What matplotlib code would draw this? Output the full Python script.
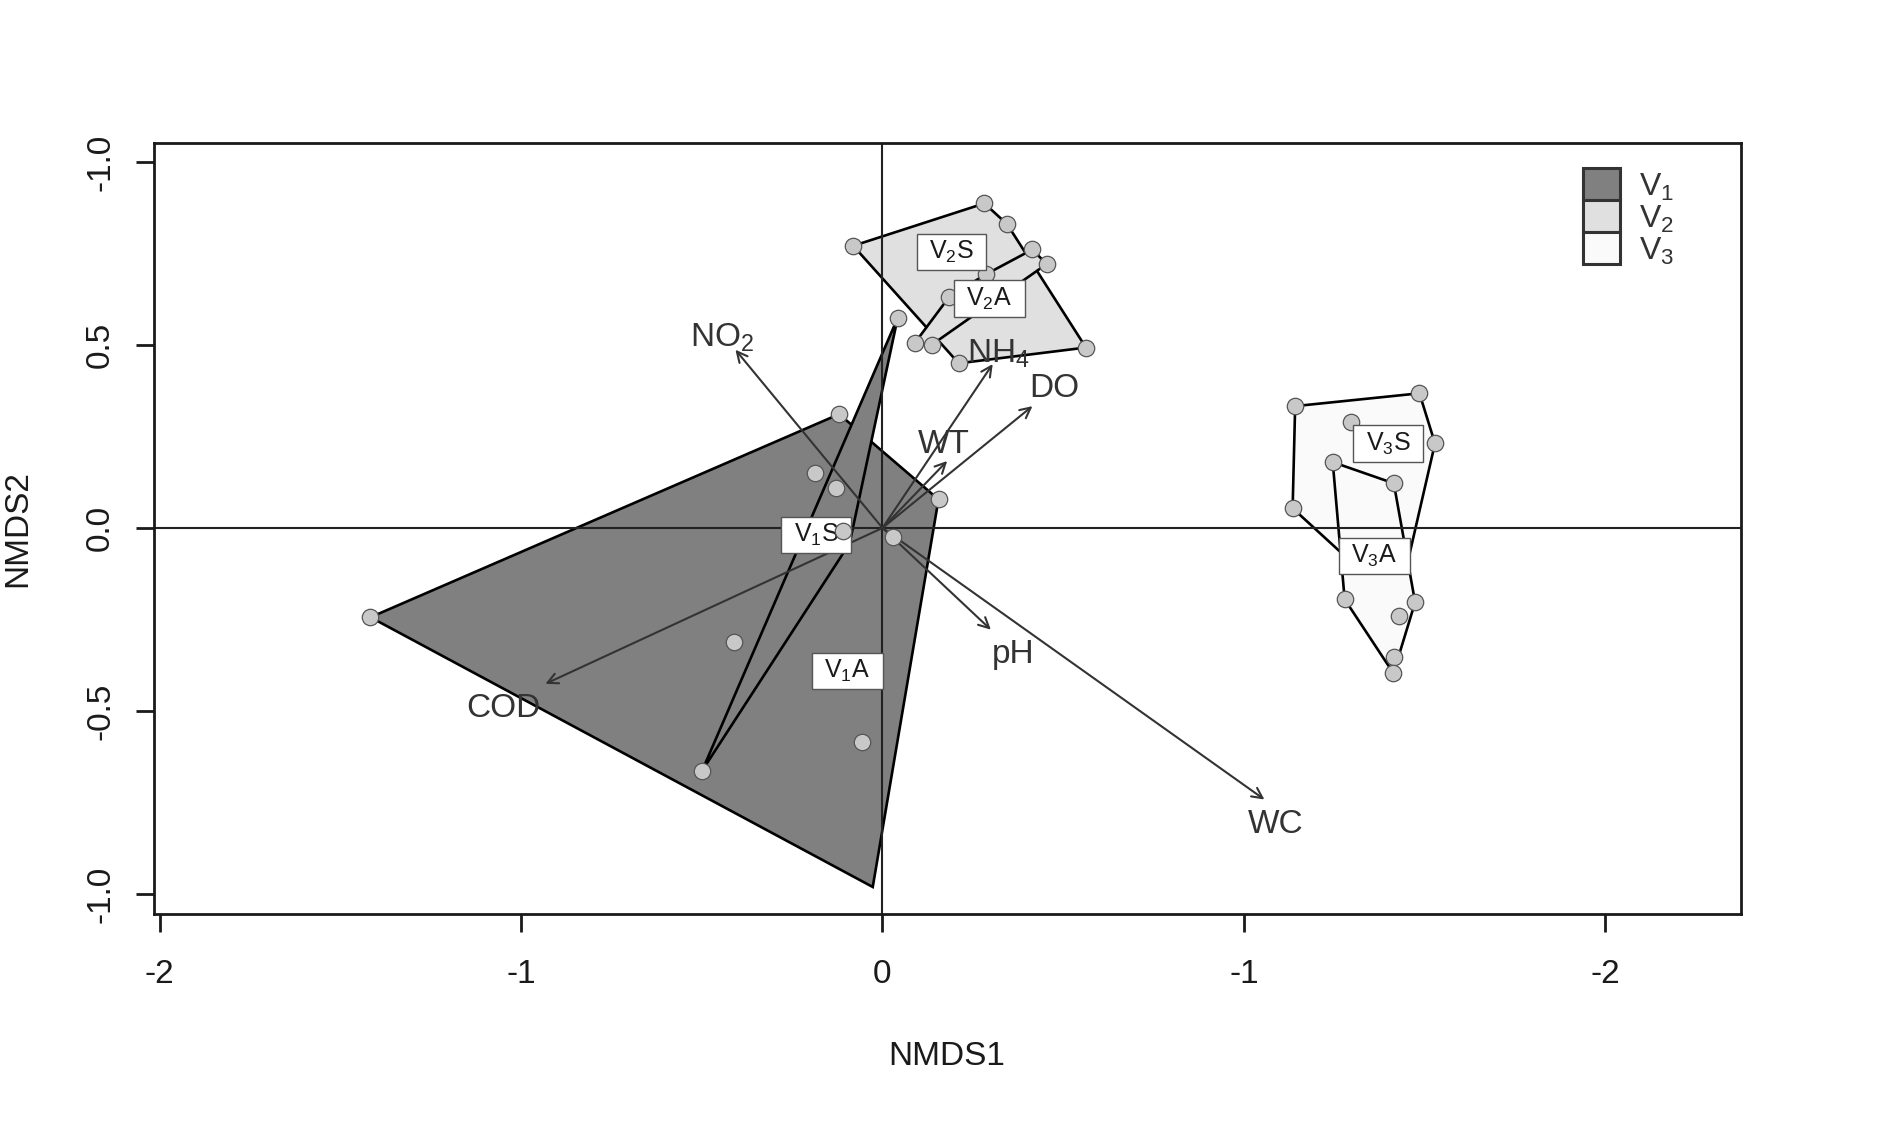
import numpy as np
import matplotlib
matplotlib.use('Agg')
import matplotlib.pyplot as plt
from matplotlib.path import Path
from matplotlib.patches import Polygon, Rectangle

plt.rcParams['font.family'] = ['Liberation Sans', 'DejaVu Sans']
plt.rcParams['mathtext.fontset'] = 'custom'
plt.rcParams['mathtext.rm'] = 'Liberation Sans'
plt.rcParams['mathtext.it'] = 'Liberation Sans:italic'
plt.rcParams['mathtext.bf'] = 'Liberation Sans:bold'

# ---------------- data ----------------
# site scores (NMDS1, NMDS2) per group
v1_x = [-1.417, -0.120, -0.186, -0.129, -0.108, 0.030, 0.155, -0.410, -0.499, -0.057, 0.042]
v1_y = [-0.244, 0.311, 0.150, 0.110, -0.008, -0.024, 0.078, -0.312, -0.663, -0.585, 0.574]
v2_x = [-0.081, 0.282, 0.345, 0.415, 0.454, 0.286, 0.185, 0.089, 0.137, 0.211, 0.563]
v2_y = [0.771, 0.887, 0.830, 0.761, 0.721, 0.693, 0.632, 0.505, 0.501, 0.450, 0.493]
v3_x = [1.142, 1.486, 1.296, 1.529, 1.246, 1.415, 1.135, 1.279, 1.474, 1.430, 1.416, 1.414]
v3_y = [0.333, 0.368, 0.290, 0.231, 0.180, 0.122, 0.054, -0.195, -0.203, -0.240, -0.352, -0.397]

# hulls (sub-groups)
hull_names = ['V1A', 'V1S', 'V2S', 'V2A', 'V3S', 'V3A']
hull_labels = [r'V$_1$A', r'V$_1$S', r'V$_2$S', r'V$_2$A', r'V$_3$S', r'V$_3$A']
hull_group = ['V1', 'V1', 'V2', 'V2', 'V3', 'V3']
hull_x = {
    'V1A': [-1.417, -0.120, 0.155, -0.027],
    'V1S': [0.042, -0.091, -0.499],
    'V2S': [-0.081, 0.282, 0.345, 0.563, 0.211],
    'V2A': [0.185, 0.286, 0.415, 0.454, 0.137, 0.089],
    'V3S': [1.142, 1.486, 1.529, 1.457, 1.281, 1.135],
    'V3A': [1.246, 1.415, 1.474, 1.414, 1.279],
}
hull_y = {
    'V1A': [-0.244, 0.311, 0.078, -0.981],
    'V1S': [0.574, -0.042, -0.663],
    'V2S': [0.771, 0.887, 0.830, 0.493, 0.450],
    'V2A': [0.632, 0.693, 0.761, 0.721, 0.501, 0.505],
    'V3S': [0.333, 0.368, 0.231, -0.078, -0.078, 0.054],
    'V3A': [0.180, 0.122, -0.203, -0.397, -0.195],
}
label_x = [-0.097, -0.184, 0.191, 0.296, 1.400, 1.361]
label_y = [-0.390, -0.019, 0.755, 0.627, 0.231, -0.076]

# environmental vectors
env_names = [r'NO$_2$', r'NH$_4$', 'DO', 'WT', 'pH', 'WC', 'COD']
env_x = [-0.407, 0.305, 0.415, 0.179, 0.300, 1.057, -0.933]
env_y = [0.487, 0.448, 0.333, 0.183, -0.278, -0.742, -0.426]
env_lab_x = [-0.445, 0.321, 0.476, 0.170, 0.362, 1.087, -1.050]
env_lab_y = [0.521, 0.477, 0.380, 0.227, -0.345, -0.809, -0.493]

# axes ticks
x_ticks = [-2, -1, 0, 1, 2]
x_tick_labels = ['-2', '-1', '0', '-1', '-2']
y_ticks = [1.0, 0.5, 0.0, -0.5, -1.0]
y_tick_labels = ['-1.0', '0.5', '0.0', '-0.5', '-1.0']

legend_names = ['V1', 'V2', 'V3']
legend_labels = [r'V$_1$', r'V$_2$', r'V$_3$']

# ---------------- style ----------------
group_fill = {'V1': '#808080', 'V2': '#E0E0E0', 'V3': '#FAFAFA'}
ink = '#1a1a1a'
vec_col = '#333333'


def label_box(x0, y0, width, height, mutation_size):
    px = 0.5 * mutation_size
    py = 0.2 * mutation_size
    x0 -= px
    y0 -= py
    x1 = x0 + width + 2 * px
    y1 = y0 + height + 2 * py
    return Path([(x0, y0), (x1, y0), (x1, y1), (x0, y1), (x0, y0)], closed=True)


fig = plt.figure(figsize=(18.9, 11.43), dpi=100)
ax = fig.add_axes([0.0813, 0.2003, 0.8397, 0.6746])
ax.set_xlim(-2.017, 2.375)
ax.set_ylim(-1.055, 1.052)

# hull polygons
for name, grp in zip(hull_names, hull_group):
    verts = np.column_stack([hull_x[name], hull_y[name]])
    ax.add_patch(Polygon(verts, closed=True, facecolor=group_fill[grp],
                         edgecolor='black', lw=1.9, zorder=2))

# zero lines
ax.axhline(0, color='#222222', lw=1.5, zorder=2.5)
ax.axvline(0, color='#222222', lw=1.5, zorder=2.5)

# environmental arrows
for name, hx, hy, lx, ly in zip(env_names, env_x, env_y, env_lab_x, env_lab_y):
    ax.annotate('', xy=(hx, hy), xytext=(0, 0),
                arrowprops=dict(arrowstyle='->,head_length=0.5,head_width=0.25',
                                color=vec_col, lw=1.5, shrinkA=0, shrinkB=0,
                                mutation_scale=15),
                zorder=3)
    ax.text(lx, ly, name, fontsize=24, color=vec_col, ha='center', va='center',
            zorder=3.2)

# site points
all_x = v1_x + v2_x + v3_x
all_y = v1_y + v2_y + v3_y
ax.scatter(all_x, all_y, s=140, facecolor='#C8C8C8', edgecolor='#555555',
           linewidths=0.9, zorder=4)

# group labels
for name, lab, lx, ly in zip(hull_names, hull_labels, label_x, label_y):
    z = 3.5 if name == 'V1S' else 5
    ax.text(lx, ly, lab, fontsize=18, color=ink, ha='center', va='center',
            zorder=z,
            bbox=dict(boxstyle=label_box, facecolor='white', edgecolor='#555555', lw=1.0))

# legend (stacked filled boxes, R style)
leg_x0, leg_top, leg_w, leg_h = 0.9004, 0.968, 0.0235, 0.0418
for i, (g, lab) in enumerate(zip(legend_names, legend_labels)):
    y0 = leg_top - (i + 1) * leg_h
    ax.add_patch(Rectangle((leg_x0, y0), leg_w, leg_h, transform=ax.transAxes,
                           facecolor=group_fill[g], edgecolor='#333333', lw=2.2,
                           zorder=6, clip_on=False))
    ax.text(leg_x0 + leg_w + 0.0118, y0 + 0.0055, lab, transform=ax.transAxes,
            fontsize=23, color='#333333', ha='left', va='baseline', zorder=6)

# axes cosmetics
for sp in ax.spines.values():
    sp.set_linewidth(2.0)
    sp.set_color(ink)
ax.set_xticks(x_ticks)
ax.set_xticklabels(x_tick_labels)
ax.set_yticks(y_ticks)
ax.set_yticklabels(y_tick_labels, rotation=90, va='center')
ax.tick_params(axis='both', length=13, width=2.0, colors=ink, labelsize=24)
ax.tick_params(axis='x', pad=19)
ax.tick_params(axis='y', pad=14)

ax.set_xlabel('NMDS1', fontsize=24, color=ink)
ax.xaxis.set_label_coords(0.5, -0.164)
ax.set_ylabel('NMDS2', fontsize=24, color=ink)
ax.yaxis.set_label_coords(-0.0756, 0.4994)

fig.savefig('out.png', dpi=100)
